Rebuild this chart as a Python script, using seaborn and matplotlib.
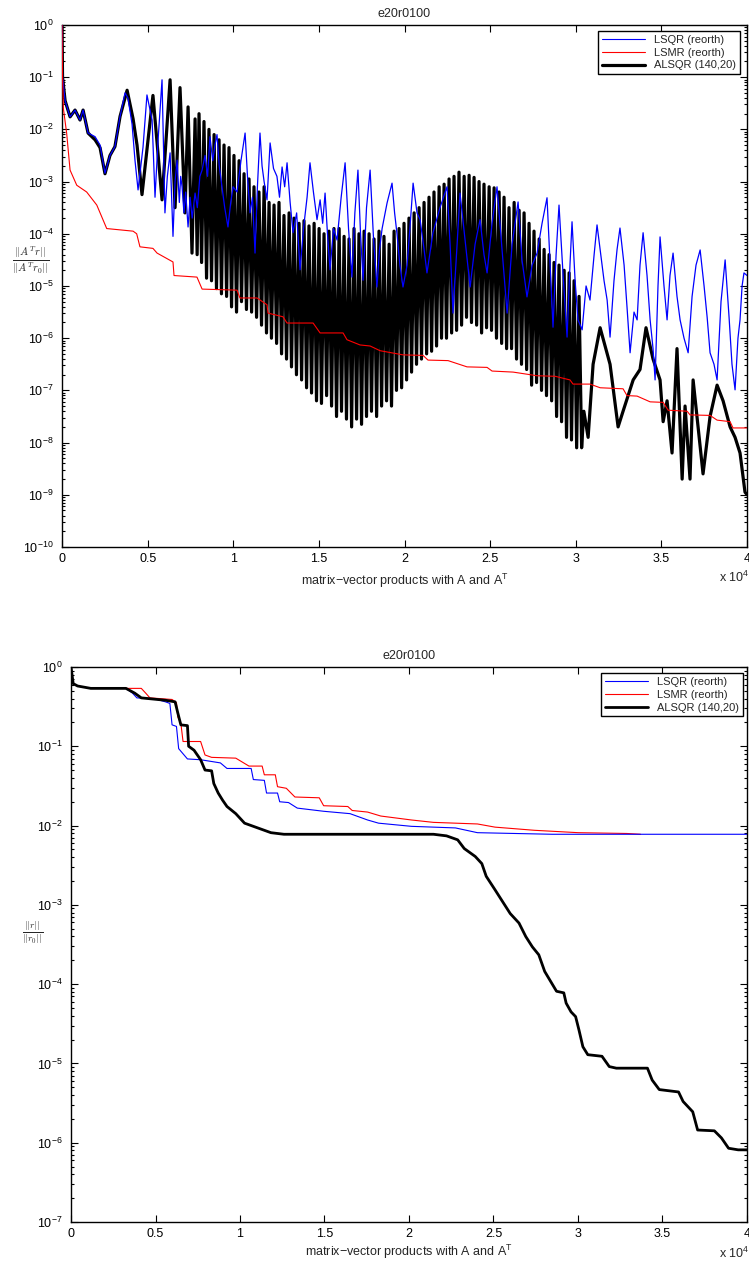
import numpy as np
import matplotlib
matplotlib.use("Agg")
import matplotlib.pyplot as plt
import seaborn as sns
from matplotlib.ticker import LogLocator, NullFormatter
from matplotlib.lines import Line2D

# ---------------- data (x in units of 10^4 products, y as log10) ----------------
title = "e20r0100"
xtick_vals = [0, 0.5, 1, 1.5, 2, 2.5, 3, 3.5, 4]
xtick_labels = ["0", "0.5", "1", "1.5", "2", "2.5", "3", "3.5", "4"]
series_labels = ["LSQR (reorth)", "LSMR (reorth)", "ALSQR (140,20)"]

# top panel: ||A^T r|| / ||A^T r0||
lsqr_top_x = [0.000, 0.003, 0.018, 0.047, 0.076, 0.105, 0.123, 0.152, 0.193, 0.222, 0.251, 0.280, 0.309, 0.339,
              0.368, 0.385, 0.409, 0.426, 0.444, 0.473, 0.496, 0.526, 0.543, 0.561, 0.584, 0.601, 0.615, 0.631,
              0.640, 0.648, 0.660, 0.672, 0.685, 0.693, 0.701, 0.712, 0.722, 0.736, 0.748, 0.760, 0.777, 0.790,
              0.805, 0.818, 0.835, 0.850, 0.864, 0.880, 0.893, 0.905, 0.918, 0.934, 0.950, 0.969, 0.985, 0.999,
              1.022, 1.045, 1.069, 1.083, 1.098, 1.112, 1.127, 1.141, 1.156, 1.168, 1.180, 1.197, 1.215, 1.235,
              1.255, 1.270, 1.285, 1.300, 1.314, 1.332, 1.349, 1.370, 1.390, 1.410, 1.431, 1.448, 1.468, 1.489,
              1.507, 1.522, 1.536, 1.550, 1.565, 1.585, 1.606, 1.630, 1.653, 1.673, 1.693, 1.710, 1.728, 1.743,
              1.758, 1.778, 1.799, 1.819, 1.839, 1.854, 1.869, 1.898, 1.927, 1.942, 1.956, 1.973, 1.991, 2.015,
              2.032, 2.050, 2.073, 2.091, 2.114, 2.131, 2.166, 2.207, 2.248, 2.266, 2.283, 2.307, 2.324, 2.353,
              2.383, 2.412, 2.441, 2.464, 2.482, 2.511, 2.540, 2.569, 2.599, 2.628, 2.663, 2.686, 2.715, 2.745,
              2.774, 2.803, 2.832, 2.850, 2.867, 2.885, 2.902, 2.926, 2.949, 2.966, 2.978, 2.996, 3.013, 3.037,
              3.060, 3.083, 3.107, 3.124, 3.142, 3.165, 3.183, 3.200, 3.223, 3.241, 3.258, 3.282, 3.299, 3.317,
              3.340, 3.358, 3.375, 3.393, 3.416, 3.434, 3.451, 3.463, 3.480, 3.492, 3.515, 3.533, 3.550, 3.568,
              3.591, 3.609, 3.632, 3.656, 3.679, 3.702, 3.726, 3.749, 3.767, 3.784, 3.807, 3.825, 3.848, 3.872,
              3.895, 3.912, 3.930, 3.947, 3.959, 3.971, 3.982, 4.000]
lsqr_top_log = [0.0, -1.0, -1.45, -1.76, -1.63, -1.82, -1.63, -2.07, -2.14, -2.3, -2.84, -2.5, -2.33, -1.75,
                -1.3, -1.4, -1.9, -2.59, -3.16, -2.34, -1.34, -1.82, -3.3, -2.2, -1.05, -3.6, -2.9, -2.45,
                -3.3, -4.05, -3.0, -2.59, -3.4, -2.9, -3.1, -3.6, -3.2, -3.87, -3.3, -3.7, -3.22, -3.5,
                -2.9, -2.78, -2.5, -2.9, -2.14, -2.6, -2.3, -2.1, -2.7, -3.1, -3.5, -3.87, -3.4, -3.1,
                -3.2, -2.6, -2.07, -2.9, -3.6, -3.3, -4.37, -3.1, -2.07, -2.7, -3.0, -3.35, -2.26, -2.75,
                -2.9, -3.3, -2.72, -3.1, -2.64, -3.4, -3.98, -3.6, -4.69, -3.9, -3.3, -2.64, -3.2, -3.73,
                -3.35, -3.8, -3.22, -4.0, -4.69, -3.9, -4.12, -3.3, -2.64, -3.9, -4.83, -3.6, -2.78, -4.0,
                -4.89, -3.5, -2.78, -4.1, -5.02, -4.3, -3.9, -3.41, -3.03, -3.6, -4.0, -4.6, -5.02, -4.6,
                -3.87, -3.03, -3.6, -3.73, -4.3, -4.75, -3.98, -3.5, -3.1, -4.2, -5.52, -4.2, -3.22, -4.1,
                -5.02, -4.2, -3.73, -4.4, -4.75, -3.8, -3.1, -4.3, -5.52, -4.2, -3.39, -4.5, -5.21, -4.6,
                -4.37, -3.8, -3.31, -4.6, -5.79, -4.4, -3.45, -4.8, -5.98, -4.6, -3.77, -4.9, -5.65, -5.84,
                -5.0, -5.27, -4.4, -3.83, -4.3, -4.9, -5.27, -5.98, -4.9, -4.3, -3.89, -4.6, -5.4, -6.28,
                -5.5, -5.65, -4.6, -3.98, -4.8, -5.65, -6.2, -6.8, -5.0, -4.06, -5.0, -5.65, -4.8, -4.37,
                -5.2, -5.65, -6.0, -6.28, -5.2, -4.6, -4.31, -5.0, -5.6, -6.28, -6.5, -6.8, -5.3, -4.5,
                -5.6, -6.5, -6.99, -6.0, -5.65, -5.0, -4.75, -4.8]

lsmr_top_x = [0.000, 0.003, 0.008, 0.027, 0.047, 0.086, 0.144, 0.203, 0.261, 0.415, 0.436, 0.455, 0.531, 0.555,
              0.648, 0.654, 0.788, 0.818, 1.022, 1.039, 1.139, 1.197, 1.203, 1.290, 1.314, 1.466, 1.507, 1.641,
              1.664, 1.740, 1.799, 1.857, 1.991, 2.108, 2.137, 2.254, 2.365, 2.482, 2.511, 2.634, 2.774, 2.879,
              2.966, 2.984, 3.083, 3.142, 3.276, 3.299, 3.358, 3.434, 3.510, 3.539, 3.650, 3.667, 3.784, 3.825,
              3.901, 3.918, 4.000]
lsmr_top_log = [0.0, -1.0, -1.6, -2.07, -2.78, -3.07, -3.2, -3.45, -3.9, -3.95, -4.0, -4.25, -4.28, -4.37,
                -4.54, -4.8, -4.83, -5.06, -5.08, -5.23, -5.23, -5.36, -5.52, -5.59, -5.71, -5.71, -5.9, -5.9,
                -6.03, -6.13, -6.15, -6.24, -6.32, -6.33, -6.42, -6.43, -6.55, -6.56, -6.63, -6.65, -6.72, -6.73,
                -6.8, -6.88, -6.88, -6.95, -6.97, -7.1, -7.11, -7.22, -7.23, -7.38, -7.4, -7.47, -7.48, -7.57,
                -7.6, -7.72, -7.72]

alsqr_top_x = [0.000, 0.003, 0.018, 0.047, 0.076, 0.105, 0.123, 0.152, 0.193, 0.222, 0.251, 0.280, 0.309, 0.339,
               0.380, 0.415, 0.438, 0.467, 0.531, 0.584, 0.631, 0.660, 0.689, 0.718, 0.736, 0.759, 0.777, 0.789,
               0.800, 0.815, 0.829, 0.844, 0.858,
               0.873, 0.888, 0.902, 0.917, 0.931,
               0.946, 0.961, 0.975, 0.990, 1.004,
               1.019, 1.034, 1.048, 1.063, 1.077,
               1.092, 1.107, 1.121, 1.136, 1.150,
               1.165, 1.180, 1.194, 1.209, 1.223,
               1.238, 1.253, 1.267, 1.282, 1.296,
               1.311, 1.326, 1.340, 1.355, 1.369,
               1.384, 1.399, 1.413, 1.428, 1.442,
               1.457, 1.472, 1.486, 1.501, 1.515,
               1.530, 1.545, 1.559, 1.574, 1.588,
               1.603, 1.618, 1.632, 1.647, 1.661,
               1.676, 1.691, 1.705, 1.720, 1.734,
               1.749, 1.764, 1.778, 1.793, 1.807,
               1.822, 1.837, 1.851, 1.866, 1.880,
               1.895, 1.910, 1.924, 1.939, 1.953,
               1.968, 1.983, 1.997, 2.012, 2.026,
               2.041, 2.056, 2.070, 2.085, 2.099,
               2.114, 2.129, 2.143, 2.158, 2.172,
               2.187, 2.202, 2.216, 2.231, 2.245,
               2.260, 2.275, 2.289, 2.304, 2.318,
               2.333, 2.348, 2.362, 2.377, 2.391,
               2.406, 2.421, 2.435, 2.450, 2.464,
               2.479, 2.494, 2.508, 2.523, 2.537,
               2.552, 2.567, 2.581, 2.596, 2.610,
               2.625, 2.640, 2.654, 2.669, 2.683,
               2.698, 2.713, 2.727, 2.742, 2.756,
               2.771, 2.786, 2.800, 2.815, 2.829,
               2.844, 2.859, 2.873, 2.888, 2.902,
               2.917, 2.932, 2.946, 2.961, 2.975,
               2.990, 3.005, 3.019, 3.034, 3.047, 3.072,
               3.101, 3.142, 3.200, 3.247, 3.276, 3.335, 3.375, 3.410, 3.451, 3.492, 3.510, 3.533, 3.562, 3.591,
               3.621, 3.638, 3.667, 3.685, 3.743, 3.784, 3.825, 3.860, 3.901, 3.930, 3.959, 3.988, 4.000]
alsqr_top_log = [0.0, -1.0, -1.45, -1.76, -1.63, -1.82, -1.63, -2.07, -2.2, -2.35, -2.85, -2.5, -2.33, -1.75,
                 -1.25, -1.8, -2.3, -3.25, -1.35, -3.35, -1.05, -3.5, -1.2, -3.6, -1.57, -4.37, -1.8, -4.4,
                 -1.70, -4.55, -1.85, -4.85, -2.0,
                 -4.9, -2.1, -5.05, -2.2, -5.15,
                 -2.3, -5.2, -2.35, -5.4, -2.5,
                 -5.5, -2.6, -5.3, -2.85, -5.45,
                 -2.95, -5.5, -3.1, -5.6, -3.2,
                 -5.75, -3.1, -5.9, -3.4, -6.0,
                 -3.45, -6.1, -3.4, -6.3, -3.65,
                 -6.4, -3.6, -6.55, -3.7, -6.7,
                 -3.8, -6.8, -3.75, -6.95, -3.85,
                 -7.05, -3.8, -7.2, -3.9, -7.25,
                 -4.0, -7.1, -3.95, -7.3, -3.9,
                 -7.5, -3.9, -7.4, -4.05, -7.55,
                 -4.1, -7.7, -3.9, -7.55, -4.0,
                 -7.65, -3.95, -7.5, -4.0, -7.4,
                 -4.1, -7.5, -3.95, -7.3, -4.05,
                 -7.2, -4.2, -7.3, -3.95, -7.0,
                 -3.9, -6.95, -3.8, -6.8, -3.7,
                 -6.65, -3.6, -6.5, -3.5, -6.4,
                 -3.4, -6.3, -3.3, -6.25, -3.2,
                 -6.15, -3.1, -6.0, -3.05, -6.0,
                 -2.95, -5.9, -2.9, -5.85, -2.82,
                 -5.75, -2.9, -5.6, -2.88, -5.7,
                 -2.92, -5.75, -3.0, -5.9, -3.05,
                 -5.8, -3.1, -5.85, -3.12, -6.0,
                 -3.2, -6.1, -3.3, -6.2, -3.5,
                 -6.2, -3.4, -6.4, -3.55, -6.5,
                 -3.6, -6.6, -3.8, -6.9, -3.95,
                 -6.85, -4.1, -7.0, -4.3, -7.1,
                 -4.4, -7.2, -4.55, -7.5, -4.6,
                 -7.6, -4.7, -7.9, -4.75, -7.95,
                 -4.9, -8.1, -5.2, -8.1, -7.4, -7.9,
                 -6.5, -5.8, -6.5, -7.7, -7.4, -6.8, -6.6, -5.8, -6.4, -6.8, -7.6, -7.2, -8.2, -6.2,
                 -8.7, -7.3, -8.7, -6.8, -8.6, -7.5, -6.9, -7.2, -7.7, -7.9, -8.2, -8.95, -9.0]

# bottom panel: ||r|| / ||r0||
lsqr_bot_x = [0.000, 0.013, 0.039, 0.117, 0.325, 0.364, 0.390, 0.494, 0.559, 0.585, 0.598, 0.624, 0.637, 0.689,
              0.767, 0.884, 0.923, 1.066, 1.079, 1.144, 1.157, 1.222, 1.235, 1.287, 1.339, 1.495, 1.651, 1.755,
              1.820, 2.015, 2.275, 2.405, 2.846, 4.000]
lsqr_bot_log = [0.0, -0.21, -0.24, -0.27, -0.27, -0.33, -0.39, -0.40, -0.44, -0.46, -0.73, -0.75, -1.03, -1.16,
                -1.17, -1.21, -1.28, -1.28, -1.42, -1.43, -1.59, -1.59, -1.70, -1.71, -1.78, -1.82, -1.85, -1.93,
                -1.97, -2.01, -2.03, -2.09, -2.11, -2.11]

lsmr_bot_x = [0.000, 0.013, 0.039, 0.117, 0.416, 0.442, 0.467, 0.598, 0.624, 0.632, 0.650, 0.663, 0.767, 0.793,
              0.832, 0.975, 1.053, 1.131, 1.144, 1.209, 1.222, 1.274, 1.325, 1.469, 1.495, 1.638, 1.664, 1.755,
              1.833, 2.015, 2.145, 2.405, 2.509, 2.743, 3.002, 3.289, 3.370]
lsmr_bot_log = [0.0, -0.21, -0.24, -0.27, -0.27, -0.33, -0.39, -0.41, -0.45, -0.63, -0.71, -0.94, -0.94, -1.11,
                -1.14, -1.15, -1.25, -1.25, -1.36, -1.36, -1.51, -1.53, -1.64, -1.65, -1.75, -1.76, -1.81, -1.83,
                -1.88, -1.93, -1.96, -1.98, -2.02, -2.06, -2.09, -2.10, -2.11]

alsqr_bot_x = [0.000, 0.013, 0.039, 0.117, 0.325, 0.377, 0.416, 0.559, 0.616, 0.632, 0.650, 0.689, 0.696, 0.728,
               0.767, 0.793, 0.832, 0.845, 0.871, 0.897, 0.923, 0.975, 1.027, 1.105, 1.183, 1.260, 2.145, 2.222,
               2.288, 2.327, 2.392, 2.431, 2.457, 2.509, 2.548, 2.599, 2.651, 2.691, 2.730, 2.768, 2.803, 2.873,
               2.916, 2.930, 2.959, 2.986, 3.006, 3.029, 3.058, 3.142, 3.185, 3.227, 3.411, 3.439, 3.481, 3.595,
               3.622, 3.679, 3.708, 3.807, 3.849, 3.891, 3.948, 4.000]
alsqr_bot_log = [0.0, -0.21, -0.24, -0.27, -0.27, -0.33, -0.39, -0.42, -0.44, -0.58, -0.73, -0.74, -1.0, -1.05,
                 -1.17, -1.30, -1.31, -1.47, -1.59, -1.68, -1.76, -1.85, -1.97, -2.03, -2.09, -2.11, -2.11, -2.13,
                 -2.18, -2.29, -2.39, -2.48, -2.64, -2.81, -2.94, -3.11, -3.23, -3.40, -3.53, -3.63, -3.84, -4.09,
                 -4.11, -4.24, -4.35, -4.41, -4.58, -4.79, -4.89, -4.91, -5.04, -5.06, -5.06, -5.21, -5.33, -5.36,
                 -5.48, -5.61, -5.84, -5.85, -5.94, -6.07, -6.09, -6.09]

# ---------------- style ----------------
sns.set_style("ticks")
plt.rcParams["font.family"] = ["Liberation Sans", "DejaVu Sans"]
plt.rcParams["mathtext.fontset"] = "custom"
plt.rcParams["mathtext.rm"] = "Liberation Sans"
plt.rcParams["mathtext.it"] = "Liberation Sans:italic"
plt.rcParams["mathtext.bf"] = "Liberation Sans:bold"

fig = plt.figure(figsize=(7.49, 12.62), dpi=100)
fig.patch.set_facecolor("white")
ax1 = fig.add_axes([0.0828, 0.5666, 0.9146, 0.4136])
ax2 = fig.add_axes([0.0948, 0.0317, 0.9025, 0.4398])


def draw(ax, x, logy, color, lw, z):
    sns.lineplot(x=np.asarray(x, float), y=10.0 ** np.asarray(logy, float), ax=ax, color=color,
                 linewidth=lw, estimator=None, sort=False, zorder=z, legend=False)


# top
draw(ax1, alsqr_top_x, alsqr_top_log, "black", 2.3, 2)
draw(ax1, lsqr_top_x, lsqr_top_log, "#0000ff", 0.9, 3)
draw(ax1, lsmr_top_x, lsmr_top_log, "#ff0000", 0.8, 4)
# bottom
draw(ax2, lsmr_bot_x, lsmr_bot_log, "#ff0000", 0.8, 2)
draw(ax2, lsqr_bot_x, lsqr_bot_log, "#0000ff", 0.8, 3)
draw(ax2, alsqr_bot_x, alsqr_bot_log, "black", 2.0, 4)

for ax, ylo, blw, anchor, lpad in ((ax1, 1e-10, 2.3, (0.990, 0.9885), 5), (ax2, 1e-7, 2.0, (0.994, 0.989), 2)):
    ax.set_yscale("log")
    ax.set_xlim(0, 4)
    ax.set_ylim(ylo, 1)
    ax.set_xticks(xtick_vals)
    ax.set_xticklabels(xtick_labels)
    ax.yaxis.set_major_locator(LogLocator(base=10, numticks=30))
    ax.yaxis.set_minor_locator(LogLocator(base=10, subs=np.arange(2, 10), numticks=300))
    ax.yaxis.set_minor_formatter(NullFormatter())
    ax.tick_params(which="both", direction="in", top=True, right=True, labelsize=9, width=0.8,
                   colors="black")
    ax.tick_params(which="major", length=5, pad=4)
    ax.tick_params(axis="y", which="major", pad=6)
    ax.tick_params(which="minor", length=2.5)
    for sp in ax.spines.values():
        sp.set_linewidth(1.0)
        sp.set_color("black")
    ax.set_title(title, fontsize=9, pad=6)
    ax.set_xlabel("matrix\u2212vector products with A and A$^{\\mathrm{T}}$", fontsize=9, labelpad=lpad)
    ax.set_ylabel("")
    ax.text(1.003, -0.043, "x 10$^{4}$", transform=ax.transAxes, ha="right", va="top", fontsize=9)
    handles = [Line2D([], [], color="#0000ff", lw=0.8),
               Line2D([], [], color="#ff0000", lw=0.8),
               Line2D([], [], color="black", lw=blw)]
    leg = ax.legend(handles, series_labels, loc="upper right", bbox_to_anchor=anchor, borderaxespad=0,
                    fontsize=8, frameon=True, fancybox=False, edgecolor="black", framealpha=1,
                    handlelength=3.9, handletextpad=0.8, labelspacing=0.25, borderpad=0.35)
    leg.get_frame().set_linewidth(1.0)

fig.text(0.0414, 0.7940, r"$\frac{||A^T r||}{||A^T r_0||}$", ha="center", va="center", fontsize=11,
         math_fontfamily="cm")
fig.text(0.044, 0.2607, r"$\frac{||r||}{||r_0||}$", ha="center", va="center", fontsize=10,
         math_fontfamily="cm")

fig.savefig("out.png", dpi=100, facecolor="white")
